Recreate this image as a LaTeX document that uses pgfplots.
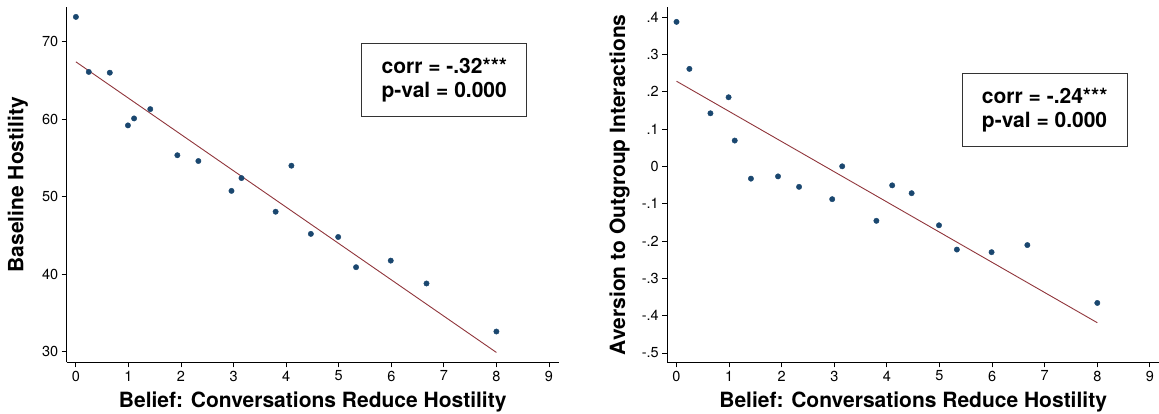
\documentclass[border=0pt]{standalone}
\usepackage{fontspec}
\setmainfont{TeX Gyre Heros}
\usepackage{pgfplots}
\pgfplotsset{compat=1.18}
\definecolor{stnavy}{HTML}{1A476F}
\definecolor{stmaroon}{HTML}{90353B}

\pgfplotsset{
  statastyle/.style={
    scale only axis,
    axis x line*=bottom,
    axis y line*=left,
    axis line style={black, line width=0.9pt},
    tick align=outside,
    major tick length=5pt,
    tick style={black, line width=0.9pt},
    xtick={0,...,9},
    xticklabels={0,1,2,3,4,5,6,7,8,9},
    ticklabel style={font=\fontsize{14.5}{16}\selectfont},
    every axis x label/.style={at={(axis description cs:0.5,-0.1287)},anchor=base,
      font=\fontsize{21}{24}\selectfont\bfseries},
    width=492pt, height=355pt,
  },
  ylab/.style={every axis y label/.style={at={(axis description cs:#1,0.5)},
      rotate=90, anchor=base, font=\fontsize{21}{24}\selectfont\bfseries}},
  pts/.style={only marks, mark=*, mark size=2.7pt, color=stnavy},
  fitline/.style={no marks, color=stmaroon, line width=0.9pt},
}
\tikzset{
  statbox/.style={draw=black!80, line width=1.1pt, fill=white, align=left,
    minimum width=165pt, minimum height=73pt,
    font=\fontsize{21}{24}\selectfont\bfseries},
}

\begin{document}
\begin{tikzpicture}
\useasboundingbox (0,0) rectangle (1159pt,414pt);

% left panel
\begin{axis}[statastyle, ylab=-0.088,
  at={(66.7pt,51.7pt)}, anchor=south west,
  xmin=-0.175, xmax=9.185,
  ymin=28.63, ymax=74.44,
  ytick={30,40,50,60,70},
  yticklabels={30,40,50,60,70},
  xlabel={Belief: Conversations Reduce Hostility},
  ylabel={Baseline Hostility},
]
\addplot[fitline] coordinates {(0,67.4) (8,29.9)};
\addplot[pts] coordinates {
  (0.00,73.2) (0.245,66.1) (0.645,66.0) (0.99,59.2) (1.107,60.1)
  (1.415,61.3) (1.93,55.35) (2.33,54.6) (2.96,50.75) (3.15,52.4)
  (3.80,48.06) (4.10,54.0) (4.47,45.2) (4.99,44.8) (5.33,40.9)
  (5.99,41.75) (6.67,38.8) (8.0,32.6)};
\node[statbox] at (axis cs:7.01,65.05)
  {corr = -.32***\\p-val = 0.000};
\end{axis}

% right panel
\begin{axis}[statastyle, ylab=-0.086,
  at={(667.3pt,51.7pt)}, anchor=south west,
  width=491.7pt,
  xmin=-0.175, xmax=9.173,
  ymin=-0.525, ymax=0.426,
  ytick={-0.5,-0.4,-0.3,-0.2,-0.1,0,0.1,0.2,0.3,0.4},
  yticklabels={-.5,-.4,-.3,-.2,-.1,0,.1,.2,.3,.4},
  xlabel={Belief: Conversations Reduce Hostility},
  ylabel={Aversion to Outgroup Interactions},
]
\addplot[fitline] coordinates {(0,0.228) (8,-0.419)};
\addplot[pts] coordinates {
  (0.00,0.387) (0.245,0.261) (0.645,0.142) (0.99,0.185) (1.107,0.069)
  (1.415,-0.033) (1.93,-0.027) (2.33,-0.055) (2.96,-0.088) (3.15,0.0)
  (3.80,-0.146) (4.10,-0.051) (4.47,-0.072) (4.99,-0.158) (5.33,-0.223)
  (5.99,-0.23) (6.67,-0.211) (8.0,-0.366)};
\node[statbox] at (axis cs:7.0,0.151)
  {corr = -.24***\\p-val = 0.000};
\end{axis}
\end{tikzpicture}
\end{document}
